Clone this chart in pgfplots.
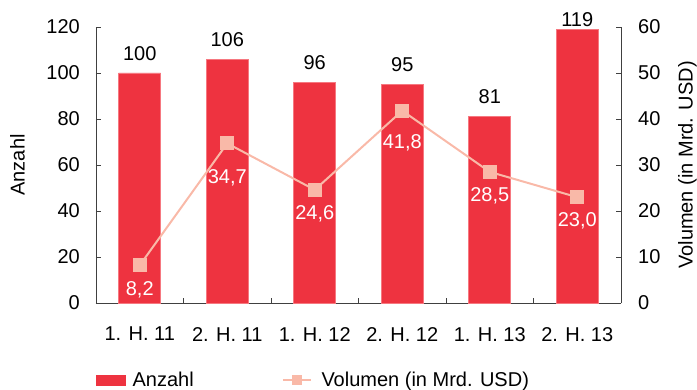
\documentclass[border=0pt]{standalone}
\usepackage{fontspec}
\setmainfont{Liberation Sans}
\usepackage{pgfplots}
\usepackage{pgfplotstable}
\pgfplotsset{compat=1.18}

\definecolor{barred}{RGB}{238,51,64}
\definecolor{baredge}{RGB}{246,120,128}
\definecolor{volpink}{RGB}{249,185,168}
\definecolor{axisgray}{RGB}{64,64,64}

\newcommand{\chartfont}{\fontsize{20bp}{24bp}\selectfont}

% Anzahl per half-year; ly = height of the value label
\pgfplotstableread{
x anzahl ly
0 100 105.4
1 106 111.4
2 96  101.4
3 95  100.4
4 81  86.4
5 119 120.0
}\anzahltab

% Volumen in Mrd. USD; ly = height of the value label
\pgfplotstableread{
x volumen ly
0 8.2  1.06
1 34.7 25.41
2 24.6 17.59
3 41.8 33.02
4 28.5 21.43
5 23.0 16.13
}\voltab

\begin{document}
\begin{tikzpicture}
\pgfplotsset{
  every axis/.append style={
    scale only axis, width=525bp, height=276bp,
    at={(0,0)}, anchor=south west,
    xmin=-0.5, xmax=5.5, clip=false,
    font=\chartfont,
    tick label style={font=\chartfont},
    label style={font=\chartfont},
    tick align=inside, major tick length=5bp,
    axis line style={axisgray, line width=0.8bp},
    tick style={axisgray, line width=0.8bp},
    /pgf/number format/assume math mode=true,
    /pgf/number format/use comma,
  },
}
\begin{axis}[
  axis y line*=left, axis x line*=bottom,
  ymin=0, ymax=120, ytick={0,20,...,120},
  xtick={-0.5,0.5,...,5.5}, xticklabels={},
  extra x ticks={0,1,2,3,4,5},
  extra x tick labels={1. H. 11, 2. H. 11, 1. H. 12, 2. H. 12, 1. H. 13, 2. H. 13},
  extra x tick style={major tick length=0pt},
  xticklabel style={inner sep=0pt, yshift=-24bp},
  yticklabel style={inner sep=0pt, xshift=-16bp},
  ylabel={Anzahl},
  ylabel style={at={([xshift=-71bp]rel axis cs:0,0.5)}, anchor=south, inner sep=0pt},
  legend style={at={(0,-0.279)}, anchor=west, draw=none, fill=none,
    inner sep=0pt, outer sep=0pt, font=\chartfont,
    nodes={inner sep=0pt},
    /tikz/every odd column/.append style={column sep=7bp}},
]
\addplot[ybar, bar width=0.48, fill=barred, draw=baredge, line width=0.6bp,
  legend image code/.code={\fill[barred] (0bp,-5bp) rectangle (29bp,5bp);}]
  table[x=x, y=anzahl] {\anzahltab};
\addlegendentry{Anzahl}
\addplot[draw=none, mark=none, forget plot, nodes near coords, point meta=explicit,
  /pgf/number format/fixed, /pgf/number format/precision=0,
  nodes near coords style={inner sep=0pt, text=black, font=\chartfont}]
  table[x=x, y=ly, meta=anzahl] {\anzahltab};
\end{axis}

\begin{axis}[
  axis y line*=right, axis x line=none,
  ymin=0, ymax=60, ytick={0,10,...,60},
  yticklabel style={inner sep=0pt, xshift=17bp},
  ylabel={Volumen (in Mrd. USD)},
  ylabel style={at={([xshift=76bp]rel axis cs:1,0.5)}, anchor=south, inner sep=0pt},
  legend style={at={(0.3543,-0.279)}, anchor=west, draw=none, fill=none,
    inner sep=0pt, outer sep=0pt, font=\chartfont,
    nodes={inner sep=0pt},
    /tikz/every odd column/.append style={column sep=10bp}},
]
\addplot[volpink, line width=2bp, mark=square*, mark size=6bp,
  mark options={fill=volpink, draw=none},
  legend image code/.code={\draw[line width=1.5bp, mark repeat=2, mark phase=2, mark size=4bp]
    plot coordinates {(0bp,0bp) (14bp,0bp) (28bp,0bp)};}]
  table[x=x, y=volumen] {\voltab};
\addlegendentry{Volumen (in Mrd. USD)}
\addplot[draw=none, mark=none, forget plot, nodes near coords, point meta=explicit,
  /pgf/number format/fixed, /pgf/number format/fixed zerofill, /pgf/number format/precision=1,
  nodes near coords style={inner sep=0pt, text=white, font=\chartfont}]
  table[x=x, y=ly, meta=volumen] {\voltab};
\end{axis}
\pgfresetboundingbox
\path[use as bounding box] (-96bp,-87bp) rectangle (601bp,303bp);
\end{tikzpicture}
\end{document}
